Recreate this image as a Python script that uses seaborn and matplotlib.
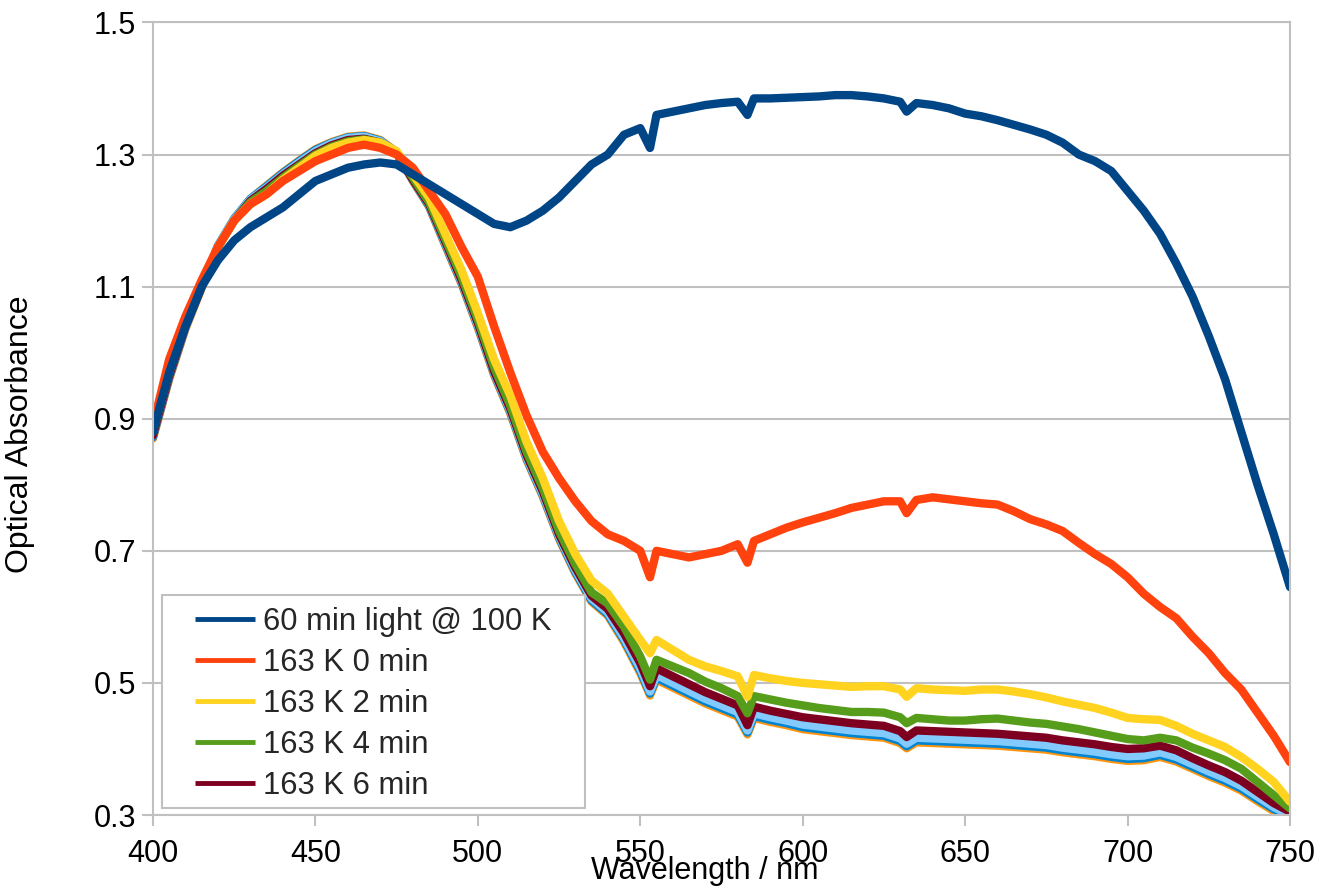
import matplotlib
matplotlib.use("Agg")
import matplotlib.pyplot as plt
from matplotlib.patches import Rectangle
import seaborn as sns

# Wavelength grid (nm)
wavelength = [400, 405, 410, 415, 420, 425, 430, 435, 440, 445,
              450, 455, 460, 465, 470, 475, 480, 485, 490, 495,
              500, 505, 510, 515, 520, 525, 530, 535, 540, 545,
              550, 553, 555, 560, 565, 570, 575, 580, 583, 585,
              590, 595, 600, 605, 610, 615, 620, 625, 630, 632,
              635, 640, 645, 650, 655, 660, 665, 670, 675, 680,
              685, 690, 695, 700, 705, 710, 715, 720, 725, 730,
              735, 740, 745, 750]

light_100k = [0.88, 0.97, 1.04, 1.10, 1.14, 1.17, 1.19, 1.205, 1.22, 1.24,
              1.26, 1.27, 1.28, 1.285, 1.288, 1.285, 1.27, 1.255, 1.24, 1.225,
              1.21, 1.195, 1.19, 1.20, 1.215, 1.235, 1.26, 1.285, 1.30, 1.33,
              1.34, 1.31, 1.36, 1.365, 1.37, 1.375, 1.378, 1.38, 1.36, 1.385,
              1.385, 1.386, 1.387, 1.388, 1.39, 1.39, 1.388, 1.385, 1.38, 1.365,
              1.378, 1.375, 1.37, 1.362, 1.358, 1.352, 1.345, 1.338, 1.33, 1.318,
              1.30, 1.29, 1.275, 1.245, 1.215, 1.18, 1.135, 1.085, 1.025, 0.96,
              0.88, 0.80, 0.725, 0.645]

k163_0 = [0.89, 0.99, 1.055, 1.11, 1.16, 1.20, 1.225, 1.24, 1.26, 1.275,
          1.29, 1.30, 1.31, 1.315, 1.31, 1.30, 1.28, 1.245, 1.21, 1.16,
          1.115, 1.04, 0.97, 0.905, 0.85, 0.81, 0.775, 0.745, 0.725, 0.715,
          0.70, 0.66, 0.70, 0.695, 0.69, 0.695, 0.70, 0.71, 0.682, 0.715,
          0.725, 0.735, 0.743, 0.75, 0.757, 0.765, 0.77, 0.775, 0.775, 0.757,
          0.777, 0.781, 0.778, 0.775, 0.772, 0.77, 0.76, 0.748, 0.74, 0.73,
          0.712, 0.695, 0.68, 0.66, 0.635, 0.615, 0.598, 0.57, 0.545, 0.515,
          0.49, 0.455, 0.42, 0.38]

k163_2 = [0.885, 0.975, 1.045, 1.105, 1.16, 1.20, 1.225, 1.24, 1.262, 1.28,
          1.298, 1.31, 1.318, 1.322, 1.318, 1.305, 1.27, 1.235, 1.18, 1.125,
          1.06, 0.99, 0.935, 0.865, 0.81, 0.745, 0.695, 0.655, 0.635, 0.60,
          0.565, 0.545, 0.565, 0.55, 0.535, 0.525, 0.518, 0.51, 0.479, 0.512,
          0.507, 0.503, 0.50, 0.498, 0.496, 0.494, 0.495, 0.495, 0.49, 0.479,
          0.492, 0.49, 0.489, 0.488, 0.49, 0.49, 0.487, 0.483, 0.478, 0.472,
          0.467, 0.462, 0.455, 0.447, 0.445, 0.444, 0.435, 0.423, 0.413, 0.403,
          0.388, 0.37, 0.35, 0.32]

k163_4 = [0.88, 0.97, 1.045, 1.105, 1.16, 1.20, 1.228, 1.245, 1.265, 1.283,
          1.30, 1.312, 1.32, 1.323, 1.318, 1.303, 1.265, 1.228, 1.172, 1.115,
          1.05, 0.978, 0.92, 0.85, 0.795, 0.73, 0.68, 0.637, 0.62, 0.585,
          0.54, 0.505, 0.535, 0.525, 0.515, 0.502, 0.492, 0.48, 0.454, 0.48,
          0.475, 0.47, 0.466, 0.462, 0.459, 0.456, 0.456, 0.455, 0.448, 0.439,
          0.447, 0.445, 0.443, 0.443, 0.445, 0.446, 0.443, 0.44, 0.438, 0.434,
          0.43, 0.425, 0.42, 0.415, 0.413, 0.417, 0.413, 0.402, 0.393, 0.383,
          0.37, 0.35, 0.33, 0.31]

k163_6 = [0.875, 0.965, 1.04, 1.10, 1.16, 1.20, 1.23, 1.248, 1.268, 1.285,
          1.302, 1.314, 1.322, 1.324, 1.318, 1.302, 1.262, 1.225, 1.168, 1.11,
          1.045, 0.972, 0.915, 0.845, 0.79, 0.725, 0.675, 0.632, 0.612, 0.575,
          0.53, 0.495, 0.522, 0.51, 0.498, 0.486, 0.476, 0.466, 0.436, 0.464,
          0.458, 0.453, 0.448, 0.445, 0.442, 0.439, 0.437, 0.435, 0.427, 0.418,
          0.428, 0.427, 0.426, 0.425, 0.424, 0.423, 0.421, 0.419, 0.417, 0.413,
          0.41, 0.407, 0.403, 0.40, 0.401, 0.405, 0.398, 0.386, 0.375, 0.365,
          0.352, 0.335, 0.318, 0.305]

# later scans, hidden beneath the others and not in the legend
k163_8 = [0.875, 0.965, 1.04, 1.10, 1.162, 1.202, 1.232, 1.25, 1.27, 1.288,
          1.305, 1.317, 1.325, 1.327, 1.32, 1.303, 1.262, 1.224, 1.166, 1.108,
          1.042, 0.97, 0.912, 0.842, 0.786, 0.722, 0.671, 0.628, 0.607, 0.568,
          0.522, 0.487, 0.512, 0.50, 0.488, 0.476, 0.466, 0.456, 0.428, 0.454,
          0.448, 0.443, 0.437, 0.434, 0.431, 0.428, 0.426, 0.424, 0.416, 0.408,
          0.417, 0.416, 0.415, 0.414, 0.413, 0.412, 0.41, 0.408, 0.406, 0.402,
          0.399, 0.396, 0.392, 0.389, 0.39, 0.395, 0.388, 0.377, 0.366, 0.356,
          0.344, 0.328, 0.312, 0.30]

k163_10 = [0.872, 0.962, 1.038, 1.10, 1.162, 1.203, 1.233, 1.252, 1.272, 1.29,
           1.307, 1.318, 1.326, 1.328, 1.321, 1.303, 1.261, 1.222, 1.164, 1.106,
           1.04, 0.968, 0.91, 0.84, 0.784, 0.72, 0.668, 0.625, 0.604, 0.565,
           0.518, 0.484, 0.508, 0.496, 0.484, 0.472, 0.462, 0.452, 0.425, 0.45,
           0.444, 0.439, 0.433, 0.43, 0.427, 0.424, 0.422, 0.42, 0.412, 0.404,
           0.413, 0.412, 0.411, 0.41, 0.409, 0.408, 0.406, 0.404, 0.402, 0.398,
           0.395, 0.392, 0.388, 0.385, 0.386, 0.391, 0.384, 0.373, 0.362, 0.352,
           0.34, 0.324, 0.309, 0.298]

k163_12 = [0.87, 0.96, 1.036, 1.098, 1.16, 1.202, 1.233, 1.253, 1.273, 1.291,
           1.308, 1.319, 1.327, 1.329, 1.322, 1.304, 1.26, 1.221, 1.162, 1.104,
           1.038, 0.966, 0.908, 0.838, 0.782, 0.718, 0.666, 0.623, 0.602, 0.562,
           0.515, 0.481, 0.505, 0.493, 0.481, 0.469, 0.459, 0.449, 0.422, 0.447,
           0.441, 0.436, 0.43, 0.427, 0.424, 0.421, 0.419, 0.417, 0.409, 0.401,
           0.41, 0.409, 0.408, 0.407, 0.406, 0.405, 0.403, 0.401, 0.399, 0.395,
           0.392, 0.389, 0.385, 0.382, 0.383, 0.388, 0.381, 0.37, 0.359, 0.349,
           0.337, 0.321, 0.306, 0.296]

names = ["60 min light @ 100 K", "163 K 0 min", "163 K 2 min", "163 K 4 min",
         "163 K 6 min", "163 K 8 min", "163 K 10 min", "163 K 12 min"]
values = [light_100k, k163_0, k163_2, k163_4, k163_6, k163_8, k163_10, k163_12]
colors = ["#004586", "#ff420e", "#ffd320", "#579d1c", "#7e0021",
          "#83caff", "#0084d1", "#ff950e"]
legend_count = 5

x_ticks = [400, 450, 500, 550, 600, 650, 700, 750]
y_ticks = [0.3, 0.5, 0.7, 0.9, 1.1, 1.3, 1.5]
y_tick_labels = ["0.3", "0.5", "0.7", "0.9", "1.1", "1.3", "1.5"]

sns.set_theme(style="white")
plt.rcParams['font.family'] = ['Liberation Sans', 'DejaVu Sans']

grey = "#c0c0c0"
fig = plt.figure(figsize=(13.22, 8.88), dpi=100)
ax = fig.add_axes([0.1157, 0.0822, 0.8601, 0.8925])

# first series ends up on top, so draw in reverse
for name, vals, col in reversed(list(zip(names, values, colors))):
    sns.lineplot(x=wavelength, y=vals, color=col, linewidth=6, label=name,
                 solid_joinstyle="round", solid_capstyle="round", ax=ax)

ax.set_xlim(400, 750)
ax.set_ylim(0.3, 1.5)
ax.set_xticks(x_ticks)
ax.set_yticks(y_ticks)
ax.set_yticklabels(y_tick_labels)
ax.yaxis.grid(True, color=grey, linewidth=1.5)
ax.xaxis.grid(False)
ax.set_axisbelow(True)
for sp in ax.spines.values():
    sp.set_visible(True)
    sp.set_color(grey)
    sp.set_linewidth(1.5)
ax.tick_params(axis="both", which="major", bottom=True, left=True,
               direction="out", length=8, width=1.5, color=grey,
               labelsize=22, labelcolor="black")
ax.tick_params(axis="x", pad=9)
ax.tick_params(axis="y", pad=4)

ax.set_xlabel("Wavelength / nm", fontsize=22, color="black")
ax.set_ylabel("Optical Absorbance", fontsize=23, color="black")
ax.xaxis.set_label_coords(0.485, -0.052)
ax.yaxis.set_label_coords(-0.104, 0.48)

# legend box: wider side padding than matplotlib gives, so frame drawn apart
ax.add_patch(Rectangle((0.0079, 0.0088), 0.372, 0.2688, transform=ax.transAxes,
                       facecolor="white", edgecolor=grey, linewidth=1.5,
                       zorder=4))
handles, labels = ax.get_legend_handles_labels()
lookup = dict(zip(labels, handles))
leg = ax.legend([lookup[n] for n in names[:legend_count]], names[:legend_count],
                loc="upper left", bbox_to_anchor=(0.0369, 0.263),
                frameon=False, fontsize=22.3, handlelength=1.94,
                handletextpad=0.26, labelspacing=0.36, borderpad=0,
                borderaxespad=0)
for line in leg.get_lines():
    line.set_linewidth(3.5)
    line.set_solid_capstyle("butt")

fig.savefig("out.png", dpi=100)
